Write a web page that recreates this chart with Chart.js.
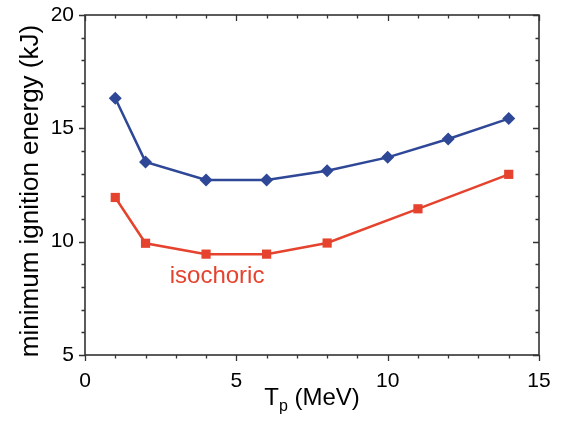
<!DOCTYPE html>
<html>
<head>
<meta charset="utf-8">
<script src="https://cdn.jsdelivr.net/npm/chart.js@4.4.1/dist/chart.umd.min.js"></script>
<style>
  html, body { margin: 0; padding: 0; background: #fff; }
  #wrap { width: 564px; height: 422px; }
</style>
</head>
<body>
<div id="wrap"><canvas id="chart" width="564" height="422"></canvas></div>
<script>
// values
const tpBlue = [1, 2, 4, 6, 8, 10, 12, 14];
const energyBlue = [16.33, 13.52, 12.72, 12.72, 13.13, 13.72, 14.53, 15.43];
const tpRed = [1, 2, 4, 6, 8, 11, 14];
const energyRed = [11.95, 9.93, 9.45, 9.45, 9.94, 11.45, 12.97];
const xTicks = [0, 5, 10, 15];
const yTicks = [5, 10, 15, 20];
const redLabel = 'isochoric';

const FONT = "'Liberation Sans', Arial, sans-serif";
const BLUE = '#2e4796';
const RED = '#e5432e';
const AXIS = '#333333';

const toPoints = (xs, ys) => xs.map((x, i) => ({ x: x, y: ys[i] }));

// frame, minor ticks, titles and the in-plot label
const framePlugin = {
  id: 'frame',
  afterDraw(chart) {
    const ctx = chart.ctx;
    const xs = chart.scales.x, ys = chart.scales.y;
    const a = chart.chartArea;
    ctx.save();
    ctx.strokeStyle = AXIS;
    ctx.lineWidth = 1.6;
    ctx.strokeRect(a.left, a.top, a.right - a.left, a.bottom - a.top);

    ctx.lineWidth = 1.3;
    ctx.beginPath();
    for (let v = xs.min; v <= xs.max; v++) {
      const px = Math.round(xs.getPixelForValue(v)) + 0.5;
      const len = v % 5 === 0 ? 6 : 3.5;
      ctx.moveTo(px, a.bottom); ctx.lineTo(px, a.bottom + len);
      ctx.moveTo(px, a.top); ctx.lineTo(px, a.top + len);
    }
    for (let v = ys.min; v <= ys.max; v++) {
      const py = Math.round(ys.getPixelForValue(v)) + 0.5;
      const len = v % 5 === 0 ? 6 : 3.5;
      ctx.moveTo(a.left, py); ctx.lineTo(a.left - len, py);
      ctx.moveTo(a.right, py); ctx.lineTo(a.right - len, py);
    }
    ctx.stroke();

    // x title with subscript
    ctx.fillStyle = '#000';
    ctx.textBaseline = 'alphabetic';
    ctx.textAlign = 'left';
    const big = '24px ' + FONT, small = '16px ' + FONT;
    ctx.font = big;
    const wT = ctx.measureText('T').width;
    const wRest = ctx.measureText(' (MeV)').width;
    ctx.font = small;
    const wP = ctx.measureText('p').width;
    let x0 = (a.left + a.right) / 2 - (wT + wP + wRest) / 2;
    const base = 405;
    ctx.font = big;
    ctx.fillText('T', x0, base);
    ctx.font = small;
    ctx.fillText('p', x0 + wT, base + 6);
    ctx.font = big;
    ctx.fillText(' (MeV)', x0 + wT + wP, base);

    // y title
    ctx.save();
    ctx.translate(38, (a.top + a.bottom) / 2 + 6);
    ctx.rotate(-Math.PI / 2);
    ctx.textAlign = 'center';
    ctx.font = '26px ' + FONT;
    ctx.fillText('minimum ignition energy (kJ)', 0, 0);
    ctx.restore();

    // curve label
    ctx.fillStyle = RED;
    ctx.font = '24px ' + FONT;
    ctx.textAlign = 'left';
    ctx.fillText(redLabel, xs.getPixelForValue(2.8), ys.getPixelForValue(8.18));
    ctx.restore();
  }
};

new Chart(document.getElementById('chart'), {
  type: 'scatter',
  data: {
    datasets: [{
      data: toPoints(tpBlue, energyBlue),
      showLine: true,
      borderColor: BLUE,
      backgroundColor: BLUE,
      borderWidth: 2.5,
      pointStyle: 'rectRot',
      pointRadius: 6.5,
      pointBorderWidth: 0
    }, {
      data: toPoints(tpRed, energyRed),
      showLine: true,
      borderColor: RED,
      backgroundColor: RED,
      borderWidth: 2.5,
      pointStyle: 'rect',
      pointRadius: 6.5,
      pointBorderWidth: 0
    }]
  },
  options: {
    responsive: false,
    animation: false,
    layout: { padding: { top: 15, right: 25, left: 0, bottom: 0 } },
    plugins: { legend: { display: false }, tooltip: { enabled: false } },
    scales: {
      x: {
        type: 'linear', min: 0, max: 15,
        grid: { display: false, drawTicks: false },
        border: { display: false },
        afterBuildTicks: (s) => { s.ticks = xTicks.map(v => ({ value: v })); },
        afterFit: (s) => { s.height = 67; s.paddingLeft = 0; s.paddingRight = 0; },
        ticks: { padding: 14, color: '#000', font: { family: FONT, size: 21 } }
      },
      y: {
        type: 'linear', min: 5, max: 20,
        grid: { display: false, drawTicks: false },
        border: { display: false },
        afterBuildTicks: (s) => { s.ticks = yTicks.map(v => ({ value: v })); },
        afterFit: (s) => { s.width = 85; s.paddingTop = 0; s.paddingBottom = 0; },
        ticks: { padding: 11, color: '#000', font: { family: FONT, size: 21 } }
      }
    }
  },
  plugins: [framePlugin]
});
</script>
</body>
</html>
